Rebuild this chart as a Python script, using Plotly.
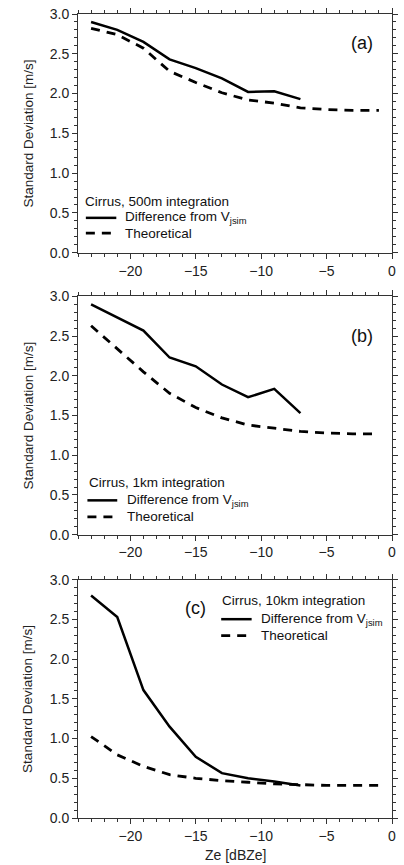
import plotly.graph_objects as go

# ---- data ----
ze_obs = [-23, -21, -19, -17, -15, -13, -11, -9, -7]
ze_theo = [-23, -21, -19, -17, -15, -13, -11, -9, -7, -5, -3, -1]

a_diff = [2.90, 2.80, 2.65, 2.43, 2.32, 2.19, 2.02, 2.03, 1.93]
a_theo = [2.82, 2.74, 2.57, 2.28, 2.14, 2.01, 1.92, 1.88, 1.82, 1.80, 1.79, 1.79]

b_diff = [2.90, 2.74, 2.57, 2.23, 2.12, 1.89, 1.73, 1.835, 1.53]
b_theo = [2.63, 2.34, 2.05, 1.78, 1.60, 1.47, 1.38, 1.34, 1.30, 1.28, 1.27, 1.27]

c_diff = [2.80, 2.53, 1.61, 1.15, 0.77, 0.565, 0.50, 0.46, 0.41]
c_theo = [1.025, 0.795, 0.65, 0.545, 0.50, 0.47, 0.45, 0.43, 0.42, 0.41, 0.41, 0.41]

titles = ["Cirrus, 500m integration", "Cirrus, 1km integration", "Cirrus, 10km integration"]
labels = ["(a)", "(b)", "(c)"]
diff_name = "Difference from V<sub>jsim</sub>"
theo_name = "Theoretical"

x_ticks = [-20, -15, -10, -5, 0]
y_ticks = [0.0, 0.5, 1.0, 1.5, 2.0, 2.5, 3.0]

FONT = "Liberation Sans, Arial, Helvetica, sans-serif"
DASH = "9px,7px"

domains = [[0.7031, 1.0], [0.3524, 0.6488], [0.0, 0.2965]]

fig = go.Figure()
series = [(a_diff, a_theo), (b_diff, b_theo), (c_diff, c_theo)]
for i, (d, t) in enumerate(series):
    k = "" if i == 0 else str(i + 1)
    fig.add_trace(go.Scatter(x=ze_theo, y=t, mode="lines", xaxis="x" + k, yaxis="y" + k,
                             line=dict(color="black", width=2.8, dash=DASH), showlegend=False))
    fig.add_trace(go.Scatter(x=ze_obs, y=d, mode="lines", xaxis="x" + k, yaxis="y" + k,
                             line=dict(color="black", width=2.5), showlegend=False))

axis_common = dict(showline=True, linecolor="#333", linewidth=1, mirror="ticks",
                   ticks="outside", ticklen=5, tickcolor="#333", tickwidth=1,
                   showgrid=False, zeroline=False,
                   tickfont=dict(family=FONT, size=14, color="#222"))

layout = dict(width=404, height=865, margin=dict(l=78, r=6, t=13, b=47),
              plot_bgcolor="white", paper_bgcolor="white", showlegend=False,
              font=dict(family=FONT, color="#222"))

for i in range(3):
    k = "" if i == 0 else str(i + 1)
    layout["xaxis" + k] = dict(axis_common, range=[-24, 0], tickvals=x_ticks,
                               anchor="y" + k, domain=[0, 1],
                               minor=dict(dtick=1, ticklen=3, ticks="outside", tickcolor="#333", showgrid=False))
    layout["yaxis" + k] = dict(axis_common, range=[0, 3], tickvals=y_ticks, tickformat=".1f",
                               anchor="x" + k, domain=domains[i],
                               minor=dict(dtick=0.1, ticklen=3, ticks="outside", tickcolor="#333", showgrid=False))

fig.update_layout(**layout)

# legends / labels per panel: (title_x, title_y, sample_x0, sample_x1, text_x, y_solid, y_dash, label_x, label_y)
leg = [
    (0.016, 0.216, 0.025, 0.122, 0.144, 0.146, 0.082, 0.903, 0.879),
    (0.028, 0.218, 0.030, 0.125, 0.150, 0.144, 0.075, 0.903, 0.835),
    (0.453, 0.912, 0.456, 0.553, 0.578, 0.834, 0.765, 0.375, 0.880),
]
anns = []
shapes = []
for i, (tx, ty, sx0, sx1, txx, ys, yd, lx, ly) in enumerate(leg):
    k = "" if i == 0 else str(i + 1)
    xr, yr = "x" + k + " domain", "y" + k + " domain"
    anns.append(dict(xref=xr, yref=yr, x=tx, y=ty, text=titles[i], showarrow=False,
                     xanchor="left", yanchor="middle", font=dict(size=13.5, family=FONT, color="#111")))
    anns.append(dict(xref=xr, yref=yr, x=txx, y=ys, text=diff_name, showarrow=False,
                     xanchor="left", yanchor="middle", font=dict(size=13.5, family=FONT, color="#111")))
    anns.append(dict(xref=xr, yref=yr, x=txx, y=yd, text=theo_name, showarrow=False,
                     xanchor="left", yanchor="middle", font=dict(size=13.5, family=FONT, color="#111")))
    anns.append(dict(xref=xr, yref=yr, x=lx, y=ly, text=labels[i], showarrow=False,
                     xanchor="center", yanchor="middle", font=dict(size=18, family=FONT, color="#111")))
    anns.append(dict(xref=xr, yref=yr, x=-0.159, y=0.5, text="Standard Deviation [m/s]", showarrow=False,
                     textangle=-90, xanchor="center", yanchor="middle",
                     font=dict(size=13.5, family=FONT, color="#222")))
    shapes.append(dict(type="line", xref=xr, yref=yr, x0=sx0, x1=sx1, y0=ys, y1=ys,
                       line=dict(color="black", width=2.5)))
    shapes.append(dict(type="line", xref=xr, yref=yr, x0=sx0, x1=sx1, y0=yd, y1=yd,
                       line=dict(color="black", width=2.8, dash=DASH)))

anns.append(dict(xref="x3 domain", yref="y3 domain", x=0.5, y=-0.154, text="Ze [dBZe]", showarrow=False,
                 xanchor="center", yanchor="middle", font=dict(size=14, family=FONT, color="#222")))
fig.update_layout(annotations=anns, shapes=shapes)

fig.write_html("out.html")
